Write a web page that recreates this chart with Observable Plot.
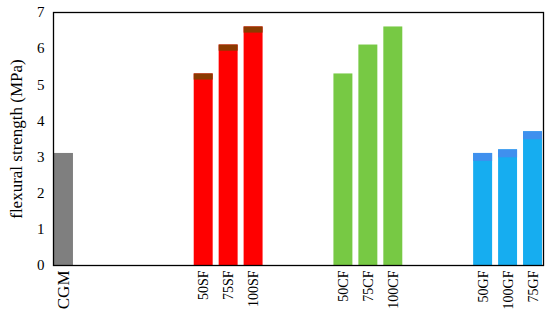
<!DOCTYPE html>
<html>
<head>
<meta charset="utf-8">
<script src="https://cdn.jsdelivr.net/npm/d3@7"></script>
<script src="https://cdn.jsdelivr.net/npm/@observablehq/plot@0.6"></script>
<style>
  html, body { margin: 0; padding: 0; background: #fff; }
</style>
</head>
<body>
<div id="chart"></div>
<script>
const categories = ["CGM", "50SF", "75SF", "100SF", "50CF", "75CF", "100CF", "50GF", "100GF", "75GF"];
const groups     = ["CGM", "SF", "SF", "SF", "CF", "CF", "CF", "GF", "GF", "GF"];
const values     = [3.1, 5.3, 6.1, 6.6, 5.3, 6.1, 6.6, 3.1, 3.2, 3.7];
const groupOrder = ["CGM", "SF", "CF", "GF"];
const yTicks     = [0, 1, 2, 3, 4, 5, 6, 7];

const fills = {CGM: "#7f7f7f", SF: "#ff0000", CF: "#77c944", GF: "#16adf0"};
const caps  = {SF: "#8b3a00", GF: "#3f90ee"};

// layout: groups spaced 5.6 bar-steps apart, bars one step apart within a group
const groupStep = 5.6;
const half = 0.38;
const data = categories.map((c, i) => {
  const g = groups[i];
  const gi = groupOrder.indexOf(g);
  const within = groups.slice(0, i).filter(d => d === g).length;
  return {category: c, group: g, value: values[i], pos: gi * groupStep + within};
});
const capData = data.filter(d => caps[d.group]);

const chart = Plot.plot({
  width: 550,
  height: 325,
  marginLeft: 53,
  marginRight: 7,
  marginTop: 12,
  marginBottom: 60,
  style: {fontFamily: "'Liberation Serif', 'Times New Roman', serif", fontSize: "14px", color: "#000", background: "#fff"},
  x: {type: "linear", domain: [-0.42, 3 * groupStep + 2 + 0.42], axis: null},
  y: {domain: [0, 7]},
  marks: [
    Plot.rectY(data, {x1: d => d.pos - half, x2: d => d.pos + half, y1: 0, y2: "value", fill: d => fills[d.group]}),
    Plot.rectY(capData, {x1: d => d.pos - half, x2: d => d.pos + half, y1: d => d.value - (d.group === "SF" ? 0.17 : 0.22), y2: "value", fill: d => caps[d.group]}),
    Plot.axisY({ticks: yTicks, tickFormat: d => String(d), tickSize: 5, tickPadding: 4, label: null, fontSize: 15, stroke: null}),
    Plot.text(["flexural strength (MPa)"], {frameAnchor: "left", textAnchor: "middle", rotate: -90, dx: -37, fontSize: 17, fill: "#000"}),
    Plot.text(data, {x: "pos", text: "category", frameAnchor: "bottom", rotate: -90, textAnchor: "end", lineAnchor: "middle", dy: 5, fontSize: d => d.group === "CGM" ? 17 : 14, fill: "#000"}),
    Plot.frame({stroke: "#000", strokeWidth: 1.3})
  ]
});
document.getElementById("chart").appendChild(chart);
</script>
</body>
</html>
